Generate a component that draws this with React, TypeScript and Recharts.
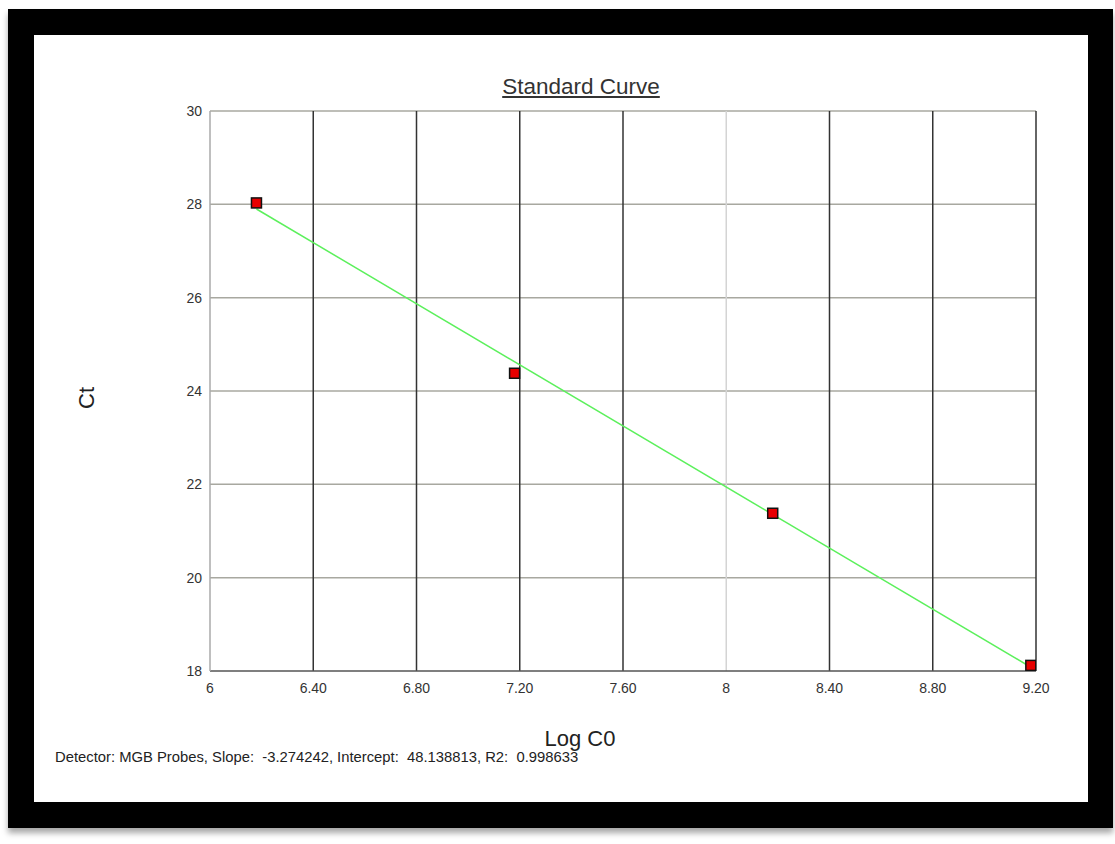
import React from 'react';
import { ComposedChart, XAxis, YAxis, Scatter, ReferenceLine } from 'recharts';

const xTicks = [6, 6.4, 6.8, 7.2, 7.6, 8, 8.4, 8.8, 9.2];
const xTickLabels = ['6', '6.40', '6.80', '7.20', '7.60', '8', '8.40', '8.80', '9.20'];
const yTicks = [18, 20, 22, 24, 26, 28, 30];
const majorGridX = [6.4, 6.8, 7.2, 7.6, 8.4, 8.8];
const minorGridX = [8];
const gridY = [20, 22, 24, 26, 28];

const logC0 = [6.18, 7.18, 8.18, 9.18];
const ctValues = [28.03, 24.38, 21.38, 18.12];
const fitLogC0 = [6.18, 9.18];
const fitCt = [27.9, 18.08];

const points = logC0.map((x, i) => ({ x, y: ctValues[i] }));
const fitLine = fitLogC0.map((x, i) => ({ x, y: fitCt[i] }));

const FONT = 'Arial, "Liberation Sans", sans-serif';

const SquareMarker = (props: any) => {
  const { cx, cy } = props;
  if (cx == null || cy == null) return <g />;
  return <rect x={cx - 5} y={cy - 5} width={10} height={10} fill="#e80000" stroke="#111" strokeWidth={1.5} />;
};

export default function App() {
  return (
    <div style={{ position: 'absolute', left: 0, top: 0, width: 1115, height: 844, background: '#fff', fontFamily: FONT }}>
      <div style={{ position: 'absolute', left: 8, top: 9, width: 1105, height: 819, background: '#000', boxShadow: '0 5px 6px rgba(0,0,0,0.35)' }} />
      <div style={{ position: 'absolute', left: 34, top: 35, width: 1054, height: 767, background: '#fff' }} />
      <div style={{ position: 'absolute', left: 0, top: 74, width: 1162, textAlign: 'center', fontSize: 22.5, color: '#333', textDecoration: 'underline', lineHeight: '26px' }}>
        Standard Curve
      </div>
      <div style={{ position: 'absolute', left: 55, top: 749, fontSize: 14.8, color: '#222', whiteSpace: 'pre', lineHeight: '17px' }}>
        {'Detector: MGB Probes, Slope:  -3.274242, Intercept:  48.138813, R2:  0.998633'}
      </div>
      <div style={{ position: 'absolute', left: 0, top: 0 }}>
        <ComposedChart width={1115} height={844} margin={{ top: 111, right: 79, bottom: 0, left: 0 }}>
          <XAxis
            type="number"
            dataKey="x"
            domain={[6, 9.2]}
            ticks={xTicks}
            allowDataOverflow
            height={173}
            tickLine={false}
            tickMargin={6}
            tickFormatter={(v: number) => xTickLabels[xTicks.indexOf(v)] ?? String(v)}
            tick={{ fontSize: 14, fill: '#333', fontFamily: FONT }}
            axisLine={{ stroke: '#555', strokeWidth: 1.5 }}
            label={{
              content: (p: any) => {
                const vb = p.viewBox || { x: 210, y: 671, width: 826 };
                return (
                  <text x={vb.x + vb.width / 2 - 43} y={vb.y + 67} textAnchor="middle" dominantBaseline="central" fontSize={22} fill="#222" fontFamily={FONT}>
                    Log C0
                  </text>
                );
              },
            }}
          />
          <YAxis
            type="number"
            domain={[18, 30]}
            ticks={yTicks}
            allowDataOverflow
            width={210}
            tickLine={false}
            tick={{ fontSize: 14, fill: '#333', fontFamily: FONT }}
            axisLine={{ stroke: '#aaa', strokeWidth: 1.5 }}
            label={{
              content: (p: any) => {
                const vb = p.viewBox || { x: 0, y: 111, height: 560 };
                const cx = vb.x + 86;
                const cy = vb.y + vb.height / 2 + 7;
                return (
                  <text x={cx} y={cy} transform={`rotate(-90, ${cx}, ${cy})`} textAnchor="middle" dominantBaseline="central" fontSize={22} fill="#222" fontFamily={FONT}>
                    Ct
                  </text>
                );
              },
            }}
          />
          {gridY.map((v) => (
            <ReferenceLine key={'gy' + v} y={v} stroke="#a8a8a0" strokeWidth={1.5} />
          ))}
          <ReferenceLine y={30} stroke="#a8a8a0" strokeWidth={1.5} />
          {minorGridX.map((v) => (
            <ReferenceLine key={'mx' + v} x={v} stroke="#d4d4d4" strokeWidth={1.5} />
          ))}
          {majorGridX.map((v) => (
            <ReferenceLine key={'gx' + v} x={v} stroke="#333" strokeWidth={1.5} />
          ))}
          <ReferenceLine x={9.2} stroke="#333" strokeWidth={1.5} />
          <Scatter
            data={fitLine}
            dataKey="y"
            line={{ stroke: '#5cf05c', strokeWidth: 1.5 }}
            shape={() => <g />}
            isAnimationActive={false}
          />
          <Scatter data={points} dataKey="y" shape={SquareMarker} isAnimationActive={false} />
        </ComposedChart>
      </div>
    </div>
  );
}
